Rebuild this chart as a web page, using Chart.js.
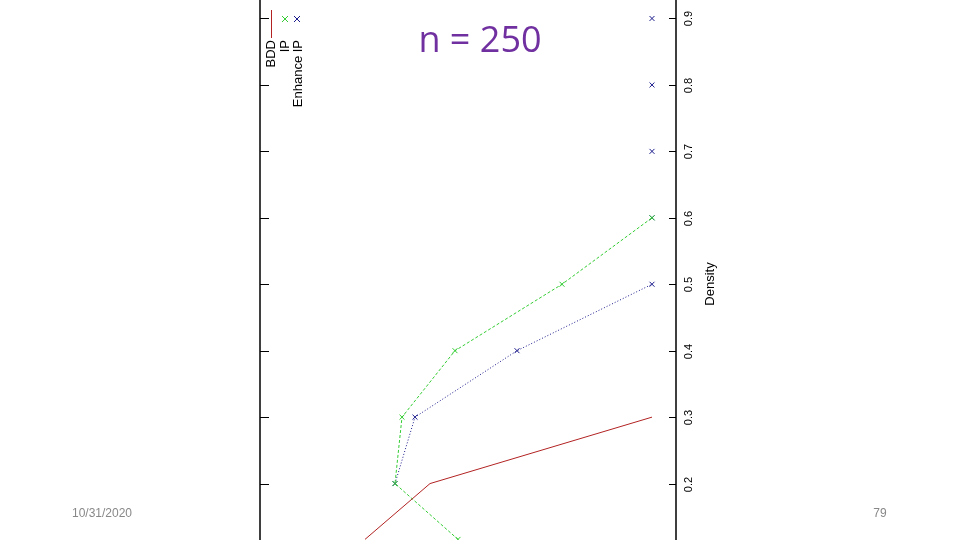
<!DOCTYPE html>
<html><head><meta charset="utf-8">
<script src="https://cdn.jsdelivr.net/npm/chart.js@4"></script>
<style>html,body{margin:0;background:#fff}#wrap{position:relative;width:960px;height:540px}</style>
</head><body><div id="wrap"><canvas id="c" width="960" height="540"></canvas></div>
<script>
'use strict';
// rotated plot: density runs vertically, the other variable horizontally
const densityTicks = [0.2, 0.3, 0.4, 0.5, 0.6, 0.7, 0.8, 0.9];
const bddX = [365, 430, 652];
const bddY = [0.116, 0.2, 0.3];
const ipX = [458, 395, 402, 455, 562, 652];
const ipY = [0.116, 0.2, 0.3, 0.4, 0.5, 0.6];
const enhX = [395, 415, 517, 652, 652, 652, 652, 652];
const enhY = [0.2, 0.3, 0.4, 0.5, 0.6, 0.7, 0.8, 0.9];

const pts = (xs, ys) => xs.map((x, i) => ({ x, y: ys[i] }));

const overlay = {
  id: 'overlay',
  afterDraw(chart) {
    const { ctx, chartArea: a, scales: { y } } = chart;
    ctx.save();
    ctx.strokeStyle = '#000'; ctx.lineWidth = 1.5;
    ctx.beginPath(); ctx.moveTo(260, 0); ctx.lineTo(260, 540);
    ctx.moveTo(a.right, 0); ctx.lineTo(a.right, 540); ctx.stroke();
    ctx.fillStyle = '#000'; ctx.font = '11px "Liberation Sans"';
    densityTicks.forEach(v => {
      const py = Math.round(y.getPixelForValue(v)) + 0.5;
      ctx.lineWidth = 1;
      ctx.beginPath(); ctx.moveTo(260, py); ctx.lineTo(269, py);
      ctx.moveTo(a.right, py); ctx.lineTo(a.right - 7, py); ctx.stroke();
      ctx.save(); ctx.translate(a.right + 13, py); ctx.rotate(-Math.PI / 2);
      ctx.textAlign = 'center'; ctx.textBaseline = 'middle'; ctx.fillText(v.toFixed(1), 0, 0); ctx.restore();
    });
    ctx.save(); ctx.translate(710, 284); ctx.rotate(-Math.PI / 2);
    ctx.font = '13px "Liberation Sans"'; ctx.textAlign = 'center'; ctx.textBaseline = 'middle';
    ctx.fillText('Density', 0, 0); ctx.restore();
    // legend
    ctx.strokeStyle = '#b22222'; ctx.beginPath(); ctx.moveTo(271.5, 10); ctx.lineTo(271.5, 38); ctx.stroke();
    const cross = (cx, cy, col) => { ctx.strokeStyle = col; ctx.beginPath();
      ctx.moveTo(cx - 3, cy - 3); ctx.lineTo(cx + 3, cy + 3); ctx.moveTo(cx + 3, cy - 3); ctx.lineTo(cx - 3, cy + 3); ctx.stroke(); };
    cross(285, 19, '#33cc33'); cross(297, 19, '#1a1a8c');
    ctx.font = '13px "Liberation Sans"'; ctx.fillStyle = '#000';
    [['BDD', 271], ['IP', 285], ['Enhance IP', 298]].forEach(([t, x]) => {
      ctx.save(); ctx.translate(x, 40); ctx.rotate(-Math.PI / 2);
      ctx.textAlign = 'right'; ctx.textBaseline = 'middle'; ctx.fillText(t, 0, 0); ctx.restore();
    });
    ctx.fillStyle = '#7030a0'; ctx.font = '36px "Open Sans"'; ctx.textAlign = 'center'; ctx.textBaseline = 'middle';
    ctx.fillText('n = 250', 480, 42);
    ctx.fillStyle = '#888'; ctx.font = '12px "Liberation Sans"';
    ctx.fillText('10/31/2020', 102, 514); ctx.fillText('79', 880, 514);
    ctx.restore();
  }
};

new Chart(document.getElementById('c'), {
  type: 'scatter',
  data: {
    datasets: [
      { label: 'BDD', data: pts(bddX, bddY), showLine: true, borderColor: '#b22222', borderWidth: 1, pointRadius: 0, clip: false },
      { label: 'IP', data: pts(ipX, ipY), showLine: true, borderColor: '#33cc33', borderWidth: 1, borderDash: [3, 2], clip: false,
        pointStyle: 'crossRot', pointRadius: 3.5, pointBorderColor: '#33cc33', pointBorderWidth: 1 },
      { label: 'Enhance IP', data: pts(enhX.slice(0, 4), enhY.slice(0, 4)), showLine: true, borderColor: '#1a1a8c', borderWidth: 1, borderDash: [1, 2],
        pointStyle: 'crossRot', pointRadius: 3.5, pointBorderColor: '#1a1a8c', pointBorderWidth: 1 },
      { label: 'Enhance IP top', data: pts(enhX.slice(4), enhY.slice(4)), showLine: false,
        pointStyle: 'crossRot', pointRadius: 3.5, pointBorderColor: '#1a1a8c', pointBorderWidth: 1 }
    ]
  },
  options: {
    responsive: false, animation: false,
    layout: { padding: { left: 260, right: 284, top: 0, bottom: 0 } },
    plugins: { legend: { display: false }, tooltip: { enabled: false } },
    scales: {
      x: { type: 'linear', min: 260, max: 676, display: false },
      y: { type: 'linear', min: 0.1226, max: 0.9203, display: false }
    }
  },
  plugins: [overlay]
});
</script></body></html>
